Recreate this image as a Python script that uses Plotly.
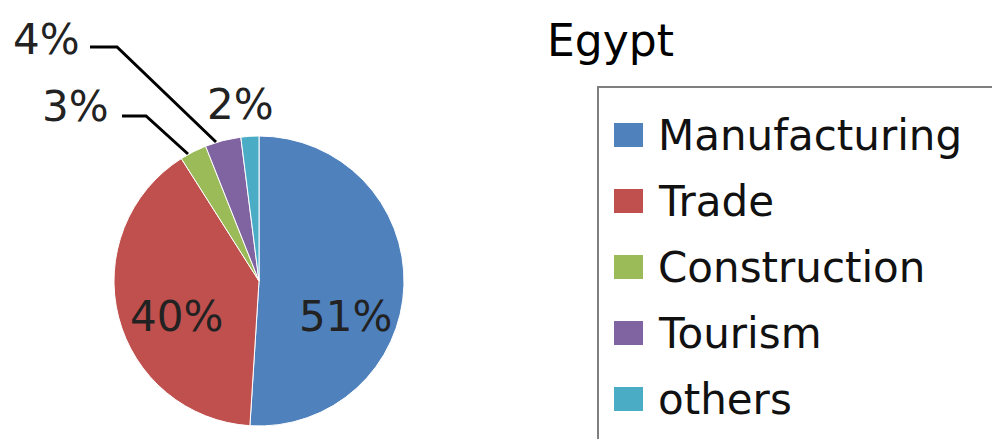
import plotly.graph_objects as go

# data
sectors = ["Manufacturing", "Trade", "Construction", "Tourism", "others"]
shares = [51, 40, 3, 4, 2]
colors = ["#4F81BD", "#C0504D", "#9BBB59", "#8064A2", "#4BACC6"]

W, H = 1000, 439
OFF = 8  # default body margin of the page
FONT = "DejaVu Sans"


def px(x, y):
    # screen pixel position -> paper coords
    return (x - OFF) / W, 1 - (y - OFF) / H


cx, cy, r = 259, 281, 145
dx0, dy0 = px(cx - r, cy + r)
dx1, dy1 = px(cx + r, cy - r)
fig = go.Figure(go.Pie(
    labels=sectors, values=shares, sort=False, direction="clockwise", rotation=0,
    marker=dict(colors=colors, line=dict(color="white", width=1)),
    textinfo="none", hoverinfo="label+percent", showlegend=False,
    domain=dict(x=[dx0, dx1], y=[dy0, dy1]),
))

annotations = []
# slice labels (placed like the original, small ones with leader lines)
label_pos = [(345, 316), (176, 316), (75, 106), (46, 39), (240, 104)]
for v, (x, y) in zip(shares, label_pos):
    ax, ay = px(x, y)
    annotations.append(dict(x=ax, y=ay, xref="paper", yref="paper", text=f"{v}%",
                            xanchor="center", yanchor="middle", showarrow=False,
                            font=dict(family=FONT, size=42, color="#222")))

shapes = []
leaders = [
    [(90, 47), (117, 47), (216, 142)],   # 4% -> Tourism
    [(122, 116), (146, 116), (188, 154)],  # 3% -> Construction
]
for pts in leaders:
    path = "M " + " L ".join(f"{px(x, y)[0]},{px(x, y)[1]}" for x, y in pts)
    shapes.append(dict(type="path", path=path, xref="paper", yref="paper",
                       line=dict(color="black", width=3)))

# title
tx, ty = px(545, 40)
annotations.append(dict(x=tx, y=ty, xref="paper", yref="paper", text="Egypt", showarrow=False,
                        xanchor="left", yanchor="middle",
                        font=dict(family=FONT, size=44, color="black")))

# legend box, cut off by the right/bottom edge like the original
x0, y0 = px(598, 87)
x1, y1 = px(1015, 455)
shapes.append(dict(type="rect", xref="paper", yref="paper", x0=x0, y0=y1, x1=x1, y1=y0,
                   line=dict(color="#7f7f7f", width=2)))
for i, (name, c) in enumerate(zip(sectors, colors)):
    yc = 135 + i * 66
    sx0, sy0 = px(614, yc - 12)
    sx1, sy1 = px(643, yc + 12)
    shapes.append(dict(type="rect", xref="paper", yref="paper", x0=sx0, y0=sy1, x1=sx1, y1=sy0,
                       fillcolor=c, line=dict(width=0)))
    lx, ly = px(656, yc)
    annotations.append(dict(x=lx, y=ly, xref="paper", yref="paper", text=name, showarrow=False,
                            xanchor="left", yanchor="middle",
                            font=dict(family=FONT, size=42, color="#111")))

fig.update_layout(
    width=W, height=H, margin=dict(l=0, r=0, t=0, b=0),
    paper_bgcolor="white", plot_bgcolor="white",
    annotations=annotations, shapes=shapes,
)
fig.write_html("out.html")
